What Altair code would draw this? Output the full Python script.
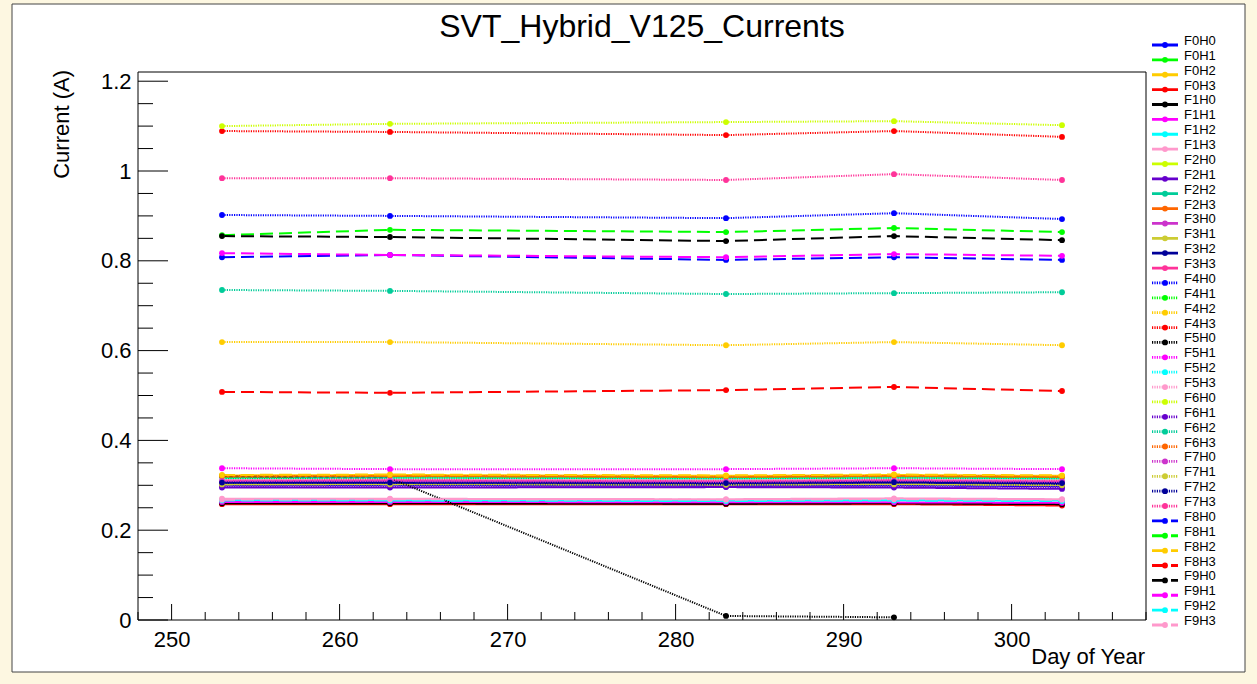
import altair as alt
import pandas as pd

# Sample days (day of year) at which the hybrid currents were read
days = [253, 263, 283, 293, 303]

# Hybrid currents in A, one list per front-end / hybrid
F0H0 = [0.300, 0.301, 0.299, 0.300, 0.298]
F0H1 = [0.316, 0.317, 0.315, 0.317, 0.315]
F0H2 = [0.322, 0.323, 0.321, 0.323, 0.321]
F0H3 = [0.258, 0.258, 0.258, 0.258, 0.255]
F1H0 = [0.260, 0.260, 0.259, 0.260, 0.258]
F1H1 = [0.263, 0.263, 0.262, 0.262, 0.261]
F1H2 = [0.267, 0.267, 0.266, 0.267, 0.266]
F1H3 = [0.270, 0.270, 0.269, 0.271, 0.269]
F2H0 = [0.304, 0.304, 0.303, 0.304, 0.303]
F2H1 = [0.295, 0.295, 0.296, 0.295, 0.292]
F2H2 = [0.318, 0.318, 0.317, 0.318, 0.317]
F2H3 = [0.319, 0.320, 0.318, 0.320, 0.318]
F3H0 = [0.308, 0.308, 0.307, 0.309, 0.307]
F3H1 = [0.302, 0.303, 0.302, 0.303, 0.301]
F3H2 = [0.305, 0.305, 0.303, 0.306, 0.303]
F3H3 = [0.311, 0.312, 0.310, 0.312, 0.310]
F4H0 = [0.902, 0.900, 0.895, 0.906, 0.893]
F4H1 = [0.317, 0.318, 0.316, 0.318, 0.316]
F4H2 = [0.619, 0.619, 0.612, 0.619, 0.612]
F4H3 = [1.089, 1.087, 1.080, 1.089, 1.076]
F5H0 = [0.320, 0.316, 0.009, 0.006]          # no reading on day 303
F5H1 = [0.338, 0.336, 0.336, 0.338, 0.336]
F5H2 = [0.315, 0.316, 0.314, 0.316, 0.314]
F5H3 = [0.312, 0.313, 0.311, 0.313, 0.311]
F6H0 = [1.100, 1.105, 1.109, 1.111, 1.102]
F6H1 = [0.298, 0.298, 0.297, 0.298, 0.296]
F6H2 = [0.735, 0.733, 0.726, 0.728, 0.730]
F6H3 = [0.320, 0.321, 0.319, 0.321, 0.319]
F7H0 = [0.309, 0.310, 0.308, 0.310, 0.308]
F7H1 = [0.302, 0.302, 0.301, 0.302, 0.300]
F7H2 = [0.306, 0.306, 0.305, 0.307, 0.305]
F7H3 = [0.984, 0.984, 0.980, 0.993, 0.980]
F8H0 = [0.808, 0.813, 0.802, 0.808, 0.802]
F8H1 = [0.857, 0.869, 0.864, 0.873, 0.864]
F8H2 = [0.323, 0.324, 0.322, 0.324, 0.322]
F8H3 = [0.508, 0.506, 0.512, 0.519, 0.510]
F9H0 = [0.855, 0.853, 0.844, 0.855, 0.846]
F9H1 = [0.817, 0.813, 0.808, 0.815, 0.811]
F9H2 = [0.266, 0.266, 0.265, 0.266, 0.265]
F9H3 = [0.268, 0.269, 0.268, 0.269, 0.268]

series = [F0H0, F0H1, F0H2, F0H3, F1H0, F1H1, F1H2, F1H3,
          F2H0, F2H1, F2H2, F2H3, F3H0, F3H1, F3H2, F3H3,
          F4H0, F4H1, F4H2, F4H3, F5H0, F5H1, F5H2, F5H3,
          F6H0, F6H1, F6H2, F6H3, F7H0, F7H1, F7H2, F7H3,
          F8H0, F8H1, F8H2, F8H3, F9H0, F9H1, F9H2, F9H3]
names = [f"F{f}H{h}" for f in range(10) for h in range(4)]

# Axis ticks
x_major = [250, 260, 270, 280, 290, 300]
x_minor = [248, 252, 254, 256, 258, 262, 264, 266, 268, 272, 274, 276, 278,
           282, 284, 286, 288, 292, 294, 296, 298, 302, 304, 306, 308]
y_major = [0, 0.2, 0.4, 0.6, 0.8, 1.0, 1.2]
y_minor = [0.05, 0.1, 0.15, 0.25, 0.3, 0.35, 0.45, 0.5, 0.55, 0.65, 0.7, 0.75,
           0.85, 0.9, 0.95, 1.05, 1.1, 1.15]

palette = ["#0000ff", "#00ff00", "#ffcc00", "#ff0000", "#000000", "#ff00ff",
           "#00ffff", "#ff99cc", "#ccff00", "#6600cc", "#00cc99", "#ff6600",
           "#cc33cc", "#cccc33", "#000099", "#ff3399"]
colors = [palette[i % 16] for i in range(len(names))]

SOLID, DOTTED, DASHED = [1, 0], [1.2, 1.2], [13, 6]
dashes, widths = [], []
for i in range(len(names)):
    board = i // 4
    if board < 4:
        dashes.append(SOLID); widths.append(2.0)
    elif board < 8:
        dashes.append(DOTTED); widths.append(1.3)
    else:
        dashes.append(DASHED); widths.append(2.2)

rows = []
for k, (name, vals) in enumerate(zip(names, series)):
    for d, v in zip(days, vals):
        rows.append({"name": name, "day": d, "current": v, "k": k})
df = pd.DataFrame(rows)
legend_df = pd.DataFrame({"name": names, "idx": list(range(len(names)))})

W, H = 1008, 548
FONT = "Liberation Sans"
XDOM = [248, 308]
YDOM = [0, 1.2205]

color_enc = alt.Color("name:N", scale=alt.Scale(domain=names, range=colors), legend=None)
dash_enc = alt.StrokeDash("name:N", scale=alt.Scale(domain=names, range=dashes), legend=None)
width_enc = alt.StrokeWidth("name:N", scale=alt.Scale(domain=names, range=widths), legend=None)

xs = alt.Scale(domain=XDOM, nice=False, zero=False)
ys = alt.Scale(domain=YDOM, nice=False)

one = pd.DataFrame({"a": [0]})

pad = alt.Chart(one).mark_rect(fill="white", stroke="#444444", strokeWidth=1).encode(
    x=alt.value(-126), x2=alt.value(1107), y=alt.value(-68), y2=alt.value(600))
frame = alt.Chart(one).mark_rect(fill="white", stroke="black", strokeWidth=1).encode(
    x=alt.value(0), x2=alt.value(W), y=alt.value(0), y2=alt.value(H))

lines = alt.Chart(df).mark_line(clip=True).encode(
    x=alt.X("day:Q", scale=xs, title=None,
            axis=alt.Axis(values=x_major, format="d", labelFont=FONT, labelFontSize=22,
                          labelColor="black", labelPadding=9, ticks=False, domain=False,
                          grid=False, labelFlush=False, zindex=2)),
    y=alt.Y("current:Q", scale=ys, title=None,
            axis=alt.Axis(values=y_major, labelFont=FONT, labelFontSize=22,
                          labelColor="black", labelPadding=7, ticks=False, domain=False,
                          grid=False, labelFlush=False, zindex=2,
                          labelExpr="datum.value == 0 ? '0' : datum.value == 1 ? '1' : format(datum.value, '.1f')")),
    color=color_enc, strokeDash=dash_enc, strokeWidth=width_enc,
    detail="name:N", order="day:Q")

points = alt.Chart(df).mark_circle(size=34, opacity=1).encode(
    x=alt.X("day:Q", scale=xs), y=alt.Y("current:Q", scale=ys), color=color_enc, order="k:Q")

def tick_df(vals):
    return pd.DataFrame({"v": vals})

ymaj = alt.Chart(tick_df(y_major)).mark_rule(color="black", strokeWidth=1).encode(
    y=alt.Y("v:Q", scale=ys), x=alt.value(0), x2=alt.value(30))
ymin = alt.Chart(tick_df(y_minor)).mark_rule(color="black", strokeWidth=1).encode(
    y=alt.Y("v:Q", scale=ys), x=alt.value(0), x2=alt.value(15))
xmaj = alt.Chart(tick_df(x_major)).mark_rule(color="black", strokeWidth=1).encode(
    x=alt.X("v:Q", scale=xs), y=alt.value(H), y2=alt.value(H - 16))
xmin = alt.Chart(tick_df(x_minor)).mark_rule(color="black", strokeWidth=1).encode(
    x=alt.X("v:Q", scale=xs), y=alt.value(H), y2=alt.value(H - 8))

title = alt.Chart(one).mark_text(text="SVT_Hybrid_V125_Currents", font=FONT, fontSize=32,
                                 align="center", baseline="middle", color="black").encode(
    x=alt.value(W / 2), y=alt.value(-45))
xtitle = alt.Chart(one).mark_text(text="Day of Year", font=FONT, fontSize=22,
                                  align="right", baseline="middle", color="black").encode(
    x=alt.value(W - 1), y=alt.value(585))
ytitle = alt.Chart(one).mark_text(text="Current (A)", font=FONT, fontSize=22, angle=270,
                                  align="right", baseline="middle", color="black").encode(
    x=alt.value(-76), y=alt.value(-2))

main = alt.layer(pad, frame, ymin, ymaj, xmin, xmaj, lines, points, title, xtitle, ytitle)

ly = alt.Y("idx:Q", scale=alt.Scale(domain=[0, len(names) - 1], range=[-27, 553]), axis=None)
leg_lines = alt.Chart(legend_df).mark_rule().encode(
    y=ly, x=alt.value(1014), x2=alt.value(1040),
    color=color_enc, strokeDash=dash_enc,
    strokeWidth=alt.StrokeWidth("name:N", scale=alt.Scale(domain=names, range=[w + 0.8 for w in widths]), legend=None))
leg_pts = alt.Chart(legend_df).mark_circle(size=34, opacity=1).encode(
    y=ly, x=alt.value(1027), color=color_enc)
leg_txt = alt.Chart(legend_df).mark_text(align="left", baseline="alphabetic", font=FONT,
                                         fontSize=13, color="black").encode(
    y=ly, x=alt.value(1046), text="name:N")

legend = alt.layer(leg_lines, leg_pts, leg_txt).resolve_scale(strokeWidth="independent")

chart = alt.layer(main, legend).resolve_scale(y="independent", strokeWidth="independent").properties(
    width=W, height=H,
    autosize=alt.AutoSizeParams(type="none"),
    padding={"left": 138, "top": 72, "right": 111, "bottom": 64},
    background="#fdf7e1",
).configure_view(stroke=None)

chart.save("out.html", embed_options={"renderer": "svg", "actions": False})
